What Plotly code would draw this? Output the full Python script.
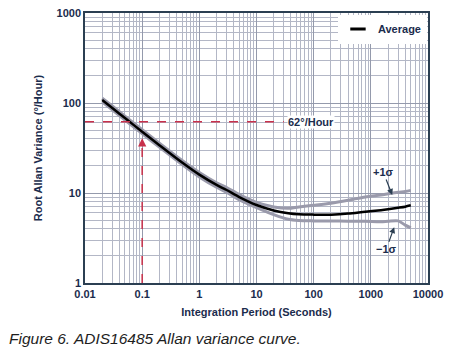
import plotly.graph_objects as go
import numpy as np

# ---- data ----
tau = [0.02, 0.03, 0.05, 0.1, 0.2, 0.5, 1, 2, 3, 5, 10, 20, 36, 55, 100, 200, 400, 800, 1500, 2000, 3000, 4000, 5000]
avg = [108, 88, 68, 48, 34, 21.8, 16.0, 12.3, 10.8, 9.0, 7.35, 6.4, 5.96, 5.8, 5.75, 5.75, 5.9, 6.2, 6.45, 6.6, 6.85, 7.05, 7.3]
upper = [113, 92.5, 71.5, 50.5, 35.8, 23.0, 16.9, 13.0, 11.5, 9.6, 7.85, 7.0, 6.75, 7.0, 7.3, 7.7, 8.3, 9.05, 9.5, 9.8, 10.2, 10.4, 10.7]
lower = [103, 83.8, 64.7, 45.6, 32.3, 20.7, 15.1, 11.6, 10.2, 8.4, 6.9, 5.75, 5.1, 4.95, 4.9, 4.88, 4.86, 4.84, 4.8, 4.85, 4.9, 4.4, 4.1]

x_ticks = [0.01, 0.1, 1, 10, 100, 1000, 10000]
x_labels = ["0.01", "0.1", "1", "10", "100", "1000", "10000"]
y_ticks = [1, 10, 100, 1000]
y_labels = ["1", "10", "100", "1000"]

threshold = 62          # deg/hour marker
tau_mark = 0.1          # seconds marker
tau_thr_end = 30        # horizontal dashed line end
mark_tip = 40.6         # arrow tip value on curve
mark_base = 33.5        # vertical dashed line top

NAVY = "#1b2c4d"
FRAME = "#2b3f52"
RED = "#c8314b"
GREY = "#9a9aab"
FONT = "Liberation Sans"

fig = go.Figure()

spline = dict(shape="spline", smoothing=0.8)
fig.add_trace(go.Scatter(x=tau, y=upper, mode="lines", line=dict(color=GREY, width=3, **spline), showlegend=False, hoverinfo="skip"))
fig.add_trace(go.Scatter(x=tau, y=lower, mode="lines", line=dict(color=GREY, width=3, **spline), showlegend=False, hoverinfo="skip"))
fig.add_trace(go.Scatter(x=tau, y=avg, mode="lines", line=dict(color="black", width=2.5, **spline), showlegend=False, name="Average"))
# legend entry with a short line symbol
fig.add_trace(go.Scatter(x=[None], y=[None], mode="markers", name="Average",
                         marker=dict(symbol="line-ew", size=11, line=dict(color="black", width=3))))

# red dashed markers
fig.add_trace(go.Scatter(x=[0.01, tau_thr_end], y=[threshold, threshold], mode="lines",
                         line=dict(color=RED, width=1.5, dash="dash"), showlegend=False, hoverinfo="skip"))
fig.add_trace(go.Scatter(x=[tau_mark, tau_mark], y=[1, mark_base], mode="lines",
                         line=dict(color=RED, width=1.5, dash="dash"), showlegend=False, hoverinfo="skip"))

fig.add_annotation(x=np.log10(tau_mark), y=np.log10(mark_tip), ax=0, ay=9, text="",
                   showarrow=True, arrowhead=2, arrowsize=1.1, arrowwidth=1.5, arrowcolor=RED)

fig.add_annotation(x=1.53, y=np.log10(threshold), text="<b>62°/Hour</b>", showarrow=False,
                   xanchor="left", yanchor="middle", bgcolor="white", borderpad=0,
                   font=dict(family=FONT, size=11, color=NAVY))

fig.add_annotation(x=3.374, y=0.978, ax=-9, ay=-23, text="<b>+1σ</b>", showarrow=True,
                   arrowhead=2, arrowsize=1, arrowwidth=1.2, arrowcolor=FRAME,
                   font=dict(family=FONT, size=11, color=NAVY))
fig.add_annotation(x=3.409, y=0.62, ax=-8, ay=22, text="<b>−1σ</b>", showarrow=True,
                   arrowhead=2, arrowsize=1, arrowwidth=1.2, arrowcolor=FRAME,
                   font=dict(family=FONT, size=11, color=NAVY))

fig.add_annotation(xref="paper", yref="paper", x=-0.226, y=-0.207, xanchor="left", yanchor="middle",
                   text="<i>Figure 6. ADIS16485 Allan variance curve.</i>", showarrow=False,
                   font=dict(family=FONT, size=15.5, color="#1e1e1e"))

axis_common = dict(
    type="log", showline=True, mirror=True, linecolor=FRAME, linewidth=1.5,
    showgrid=True, gridcolor="#949aac", gridwidth=1,
    ticks="", tickfont=dict(family=FONT, size=11, color=NAVY, weight="bold"),
    zeroline=False,
    minor=dict(showgrid=True, dtick="D1", gridcolor="#b3b7c6", gridwidth=1),
)

fig.update_xaxes(**axis_common, range=[-2, 4], tickvals=x_ticks, ticktext=x_labels,
                 title=dict(text="<b>Integration Period (Seconds)</b>", standoff=9,
                            font=dict(family=FONT, size=11, color=NAVY)))
fig.update_yaxes(**axis_common, range=[0, 3], tickvals=y_ticks, ticktext=y_labels,
                 title=dict(text="<b>Root Allan Variance (°/Hour)</b>", standoff=12,
                            font=dict(family=FONT, size=11, color=NAVY)))

fig.update_layout(
    width=450, height=353,
    margin=dict(l=85, r=20, t=7, b=70),
    paper_bgcolor="white", plot_bgcolor="white",
    showlegend=True,
    legend=dict(x=0.997, y=0.994, xanchor="right", yanchor="top", bgcolor="white",
                borderwidth=0, itemwidth=30, tracegroupgap=0,
                font=dict(family=FONT, size=11, color=NAVY, weight="bold")),
)

fig.write_html("out.html")
